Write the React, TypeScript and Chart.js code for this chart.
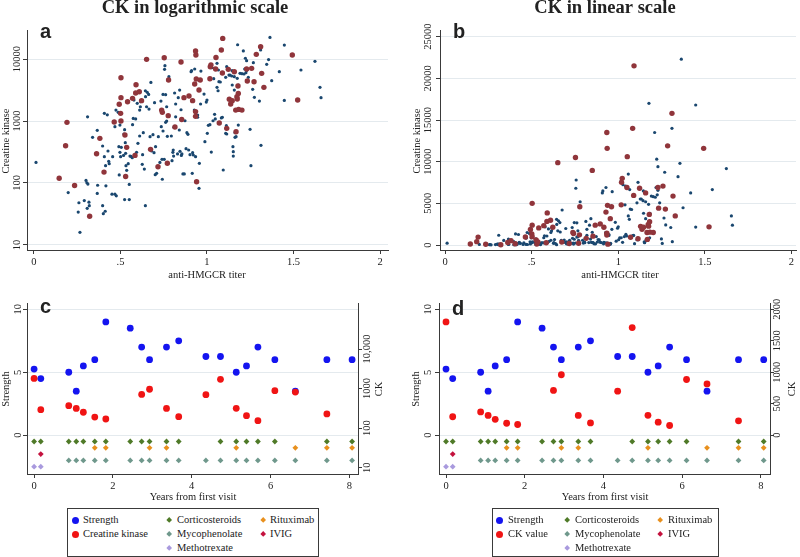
import React, { useEffect, useRef } from 'react';
import { Chart, registerables } from 'chart.js';

Chart.register(...registerables);

const SERIF = '"Liberation Serif", "Times New Roman", Times, serif';
const SANS = '"Liberation Sans", Arial, Helvetica, sans-serif';
const INK = '#222222';
const AXIS = '#3a3a3a';
const GRID = '#e4eaee';

// ---------- Panels a / b : anti-HMGCR titer vs creatine kinase ----------
const titerBlue = [
  0.012, 0.198, 0.26, 0.256, 0.266, 0.291, 0.301, 0.306, 0.312, 0.308,
  0.32, 0.318, 0.31, 0.339, 0.366, 0.366, 0.368, 0.397, 0.397, 0.401,
  0.407, 0.412, 0.416, 0.414, 0.407, 0.424, 0.428, 0.432, 0.435, 0.451,
  0.455, 0.468, 0.468, 0.476, 0.474, 0.487, 0.491, 0.493, 0.497, 0.497,
  0.501, 0.505, 0.518, 0.52, 0.524, 0.524, 0.528, 0.53, 0.532, 0.536,
  0.545, 0.551, 0.551, 0.555, 0.561, 0.568, 0.57, 0.574, 0.578, 0.588,
  0.593, 0.597, 0.601, 0.611, 0.611, 0.615, 0.617, 0.626, 0.628, 0.632,
  0.638, 0.644, 0.644, 0.645, 0.651, 0.655, 0.663, 0.665, 0.671, 0.676,
  0.68, 0.688, 0.694, 0.697, 0.701, 0.703, 0.709, 0.719, 0.728, 0.734,
  0.736, 0.74, 0.742, 0.746, 0.746, 0.753, 0.755, 0.757, 0.761, 0.761,
  0.767, 0.767, 0.771, 0.78, 0.794, 0.798, 0.803, 0.805, 0.807, 0.809,
  0.813, 0.819, 0.819, 0.83, 0.834, 0.84, 0.842, 0.844, 0.85, 0.852,
  0.855, 0.861, 0.869, 0.873, 0.879, 0.884, 0.89, 0.894, 0.902, 0.908,
  0.911, 0.915, 0.917, 0.921, 0.929, 0.927, 0.934, 0.946, 0.946, 0.954,
  0.956, 0.965, 0.963, 0.983, 0.988, 0.996, 1.0, 1.002, 1.008, 1.017,
  1.017, 1.025, 1.027, 1.035, 1.039, 1.042, 1.044, 1.048, 1.058, 1.058,
  1.064, 1.066, 1.069, 1.077, 1.083, 1.089, 1.094, 1.108, 1.108, 1.112,
  1.114, 1.114, 1.127, 1.133, 1.143, 1.145, 1.146, 1.15, 1.152, 1.152,
  1.156, 1.158, 1.158, 1.162, 1.162, 1.168, 1.175, 1.177, 1.181, 1.183,
  1.191, 1.202, 1.21, 1.214, 1.218, 1.222, 1.225, 1.229, 1.229, 1.239,
  1.249, 1.254, 1.264, 1.268, 1.274, 1.303, 1.31, 1.312, 1.345, 1.356,
  1.364, 1.374, 1.418, 1.447, 1.447, 1.543, 1.624, 1.653, 1.659,
];
const ckBlue = [
  215, 70, 48, 34, 16, 52, 110, 101, 96, 39,
  43, 49, 1170, 545, 68, 707, 92, 395, 43, 32,
  266, 35, 90, 190, 1330, 1260, 328, 224, 205, 66,
  266, 811, 66, 62, 1500, 1380, 385, 135, 861, 312,
  266, 376, 279, 617, 725, 54, 447, 301, 190, 160,
  205, 54, 95, 272, 269, 256, 873, 1100, 2180, 1080,
  312, 1930, 436, 573, 1500, 1700, 2050, 200, 286, 648,
  168, 43, 3080, 2470, 1700, 2900, 2690, 1560, 559, 4200,
  328, 602, 308, 1980, 136, 385, 143, 559, 215, 2100,
  811, 241, 115, 2690, 690, 241, 6810, 7800, 2660, 951,
  1700, 1000, 566, 5190, 573, 229, 312, 341, 272, 791,
  2830, 1170, 1880, 294, 2380, 716, 3160, 324, 1520, 279,
  294, 140, 140, 1010, 358, 648, 610, 341, 286, 6250,
  6490, 143, 308, 283, 6900, 1500, 266, 1250, 1150, 82,
  208, 6400, 1880, 2720, 464, 2020, 2180, 632, 851, 7710,
  873, 316, 7240, 1010, 4820, 7070, 1280, 1080, 3490, 8510,
  3080, 6650, 4310, 4260, 1120, 1150, 162, 5060, 632, 841,
  617, 7520, 5520, 5520, 5320, 6490, 3810, 385, 320, 272,
  6320, 5190, 3160, 648, 545, 559, 4880, 17000, 861, 3810,
  5870, 5800, 13500, 5730, 6900, 10300, 6020, 9400, 6560, 5060,
  734, 190, 3240, 8730, 2410, 2100, 14000, 405, 8200, 9800,
  22300, 4470, 6250, 16800, 2150, 6650, 9170, 3490, 2380,
];
const titerRed = [
  0.146, 0.183, 0.191, 0.235, 0.322, 0.362, 0.381, 0.405, 0.464, 0.493,
  0.501, 0.503, 0.503, 0.503, 0.526, 0.53, 0.536, 0.541, 0.57, 0.584,
  0.588, 0.59, 0.609, 0.622, 0.651, 0.674, 0.717, 0.738, 0.742, 0.753,
  0.771, 0.776, 0.778, 0.815, 0.85, 0.854, 0.867, 0.896, 0.917, 0.929,
  0.934, 0.934, 0.934, 0.936, 0.938, 0.94, 0.954, 0.961, 1.019, 1.017,
  1.023, 1.05, 1.052, 1.071, 1.083, 1.089, 1.091, 1.114, 1.123, 1.129,
  1.137, 1.146, 1.158, 1.166, 1.168, 1.173, 1.175, 1.179, 1.181, 1.183,
  1.202, 1.229, 1.233, 1.258, 1.272, 1.285, 1.31, 1.316, 1.329, 1.493, 1.524,
];
const ckRed = [
  119, 400, 951, 91, 29, 297, 525, 150, 964, 1860,
  1330, 1000, 2380, 5000, 595, 127, 376, 2050, 2320, 279,
  2830, 3850, 2970, 2130, 9880, 349, 183, 1500, 1380, 10500,
  208, 1220, 4590, 800, 8950, 1060, 2380, 2530, 2130, 3950,
  1420, 1190, 13500, 11600, 4760, 105, 3160, 4590, 7520, 4820,
  8000, 6900, 10600, 929, 14000, 5950, 21500, 762, 6810, 2240,
  1880, 2130, 6250, 1500, 673, 2470, 2260, 3670, 2790, 1540,
  1500, 6900, 4420, 7070, 4310, 11900, 15800, 5870, 3490, 11600, 2180,
];
const titerTicks = [0, 0.5, 1, 1.5, 2];
const ckLogTicksAB = [10, 100, 1000, 10000];
const ckLinTicksAB = [0, 5000, 10000, 15000, 20000, 25000];

// ---------- Panels c / d : patient course ----------
const visitYears = [0, 0.17, 0.88, 1.07, 1.25, 1.54, 1.82, 2.44, 2.73, 2.93, 3.36, 3.67, 4.36, 4.73, 5.13, 5.39, 5.68, 6.11, 6.63, 7.43, 8.07];
const strength = [5.25, 4.5, 5, 3.5, 5.5, 6, 9, 8.5, 7, 6, 7, 7.5, 6.25, 6.25, 5, 5.5, 7, 6, 3.5, 6, 6];
const ckVisit = [1800, 293, 370, 314, 252, 190, 170, null, 712, 960, 314, 195, 700, 1710, 316, 207, 154, 885, 815, 228, null];
const onCorticosteroids = [1, 1, 1, 1, 1, 1, 1, 1, 1, 1, 1, 1, 0, 1, 1, 1, 1, 1, 0, 1, 1];
const onRituximab = [0, 0, 0, 0, 0, 1, 1, 0, 0, 1, 1, 0, 0, 0, 1, 0, 0, 0, 1, 1, 1];
const onIVIG = [0, 1, 0, 0, 0, 0, 0, 0, 0, 0, 0, 0, 0, 0, 0, 0, 0, 0, 0, 0, 0];
const onMycophenolate = [0, 0, 1, 1, 1, 1, 1, 1, 1, 1, 1, 1, 1, 1, 1, 1, 1, 1, 1, 1, 1];
const onMethotrexate = [1, 1, 0, 0, 0, 0, 0, 0, 0, 0, 0, 0, 0, 0, 0, 0, 0, 0, 0, 0, 0];
const levelCorticosteroids = -0.5;
const levelRituximab = -1;
const levelIVIG = -1.5;
const levelMycophenolate = -2;
const levelMethotrexate = -2.5;
const yearTicks = [0, 2, 4, 6, 8];
const strengthTicks = [0, 5, 10];
const ckLogTicksC = [10, 100, 1000, 10000];
const ckLinTicksD = [0, 500, 1000, 1500, 2000];

const C_NAVY = '#1a476f';
const C_MAROON = '#90353b';
const C_STRENGTH = '#1414f0';
const C_CK = '#f01414';
const C_CORT = '#4f7a28';
const C_MYCO = '#6f988c';
const C_RITUX = '#e8901e';
const C_IVIG = '#c4123e';
const C_MTX = '#a99ade';

type TextSpec = { text: string; x: number; y: number; font: string; rot?: boolean; align?: CanvasTextAlign; baseline?: CanvasTextBaseline };
type RotTicks = { axis: string; x: number; fmt: (v: number) => string };

function decoPlugin(texts: TextSpec[], rotTicks: RotTicks[]) {
  return {
    id: 'deco',
    afterDraw(chart: any) {
      const ctx = chart.ctx as CanvasRenderingContext2D;
      ctx.save();
      ctx.fillStyle = INK;
      for (const r of rotTicks) {
        const sc = chart.scales[r.axis];
        ctx.font = `10.5px ${SERIF}`;
        for (const t of sc.ticks) {
          const y = sc.getPixelForValue(t.value);
          ctx.save();
          ctx.translate(r.x, y);
          ctx.rotate(-Math.PI / 2);
          ctx.textAlign = 'center';
          ctx.textBaseline = 'middle';
          ctx.fillText(r.fmt(t.value), 0, 0);
          ctx.restore();
        }
      }
      for (const s of texts) {
        ctx.save();
        ctx.font = s.font;
        ctx.textAlign = s.align || 'center';
        ctx.textBaseline = s.baseline || 'middle';
        ctx.translate(s.x, s.y);
        if (s.rot) ctx.rotate(-Math.PI / 2);
        ctx.fillText(s.text, 0, 0);
        ctx.restore();
      }
      ctx.restore();
    },
  };
}

const fixTicks = (vals: number[]) => (scale: any) => {
  scale.ticks = vals.map((v) => ({ value: v }));
};
const fixW = (w: number) => (s: any) => {
  s.width = w;
};
const fixH = (h: number) => (s: any) => {
  s.height = h;
};

const xTitleFont = `10.5px ${SERIF}`;
const titleFont = `bold 18.5px ${SERIF}`;
const letterFont = `bold 20px ${SANS}`;

function xScale(min: number, max: number, ticks: number[], h: number, fmt: (v: number) => string) {
  return {
    type: 'linear',
    position: 'bottom',
    min,
    max,
    afterBuildTicks: fixTicks(ticks),
    afterFit: fixH(h),
    grid: { display: true, drawOnChartArea: false, drawTicks: true, tickLength: 4, tickColor: AXIS, lineWidth: 1 },
    border: { display: true, color: AXIS, width: 1 },
    ticks: { color: INK, padding: 2, font: { family: SERIF, size: 10.5 }, callback: (v: any) => fmt(Number(v)), maxRotation: 0, minRotation: 0, autoSkip: false },
  };
}

function yScale(type: string, position: string, min: number, max: number, ticks: number[], w: number, grid: boolean) {
  return {
    type,
    position,
    min,
    max,
    afterBuildTicks: fixTicks(ticks),
    afterFit: fixW(w),
    grid: { display: true, drawOnChartArea: grid, color: GRID, drawTicks: true, tickLength: 4, tickColor: AXIS, lineWidth: 1 },
    border: { display: true, color: AXIS, width: 1 },
    ticks: { display: false },
  };
}

const titerFmt = (v: number) => (v === 0 ? '0' : String(v).replace(/^0\./, '.'));

function scatterPanel(canvas: HTMLCanvasElement, log: boolean) {
  const red = titerRed.map((t, i) => ({ x: t, y: ckRed[i] }));
  const blue = titerBlue.map((t, i) => ({ x: t, y: ckBlue[i] }));
  const yAxisW = log ? 27 : 40;
  const texts: TextSpec[] = log
    ? [
        { text: 'CK in logarithmic scale', x: 195, y: 12.5, font: titleFont, baseline: 'alphabetic' },
        { text: 'a', x: 40, y: 38, font: letterFont, align: 'left', baseline: 'alphabetic' },
        { text: 'anti-HMGCR titer', x: 207, y: 275, font: xTitleFont },
        { text: 'Creatine kinase', x: 6, y: 141, font: xTitleFont, rot: true },
      ]
    : [
        { text: 'CK in linear scale', x: 205, y: 12.5, font: titleFont, baseline: 'alphabetic' },
        { text: 'b', x: 53, y: 38, font: letterFont, align: 'left', baseline: 'alphabetic' },
        { text: 'anti-HMGCR titer', x: 220, y: 275, font: xTitleFont },
        { text: 'Creatine kinase', x: 17, y: 141, font: xTitleFont, rot: true },
      ];
  return new Chart(canvas, {
    type: 'scatter',
    data: {
      datasets: [
        { data: red, backgroundColor: C_MAROON, borderColor: C_MAROON, borderWidth: 0, pointRadius: 2.7 },
        { data: blue, backgroundColor: C_NAVY, borderColor: C_NAVY, borderWidth: 0, pointRadius: 1.6 },
      ],
    },
    options: {
      responsive: false,
      animation: false,
      events: [],
      layout: { padding: { left: 0, top: 30, right: log ? 12 : 2, bottom: 0 } },
      plugins: { legend: { display: false }, tooltip: { enabled: false }, title: { display: false } },
      scales: {
        x: xScale(log ? -0.04 : -0.029, log ? 2.046 : 2.026, titerTicks, 40, titerFmt) as any,
        y: (log
          ? yScale('logarithmic', 'left', 8.3, 29400, ckLogTicksAB, yAxisW, true)
          : yScale('linear', 'left', -600, 25800, ckLinTicksAB, yAxisW, true)) as any,
      },
    },
    plugins: [decoPlugin(texts, [{ axis: 'y', x: log ? 17 : 28, fmt: (v) => String(v) }])],
  } as any);
}

function coursePanel(canvas: HTMLCanvasElement, log: boolean) {
  const pts = (flags: number[], level: number) =>
    visitYears.filter((_, i) => flags[i]).map((yr) => ({ x: yr, y: level }));
  const ckPts = visitYears
    .map((yr, i) => (ckVisit[i] == null ? null : { x: yr, y: ckVisit[i] as number }))
    .filter((p) => p !== null);
  const strengthPts = visitYears.map((yr, i) => ({ x: yr, y: strength[i] }));
  const diamond = (data: any[], color: string) => ({
    data,
    yAxisID: 'y',
    pointStyle: 'rectRot',
    pointRadius: 2.9,
    backgroundColor: color,
    borderColor: color,
    borderWidth: 0,
  });
  const leftW = log ? 27 : 39;
  const rightW = log ? 42 : 30;
  const texts: TextSpec[] = log
    ? [
        { text: 'c', x: 40, y: 23, font: letterFont, align: 'left', baseline: 'alphabetic' },
        { text: 'Years from first visit', x: 193, y: 207, font: xTitleFont },
        { text: 'Strength', x: 6, y: 99, font: xTitleFont, rot: true },
        { text: 'CK', x: 379, y: 99, font: xTitleFont, rot: true },
      ]
    : [
        { text: 'd', x: 52, y: 25, font: letterFont, align: 'left', baseline: 'alphabetic' },
        { text: 'Years from first visit', x: 205, y: 207, font: xTitleFont },
        { text: 'Strength', x: 16, y: 99, font: xTitleFont, rot: true },
        { text: 'CK', x: 392, y: 99, font: xTitleFont, rot: true },
      ];
  const rot: RotTicks[] = [
    { axis: 'y', x: log ? 18 : 28, fmt: (v) => String(v) },
    { axis: 'y2', x: log ? 367 : 377, fmt: (v) => (v >= 10000 ? v.toLocaleString('en-US') : String(v)) },
  ];
  return new Chart(canvas, {
    type: 'scatter',
    data: {
      datasets: [
        { data: ckPts, yAxisID: 'y2', pointRadius: 3.4, backgroundColor: C_CK, borderColor: C_CK, borderWidth: 0 },
        { data: strengthPts, yAxisID: 'y', pointRadius: 3.4, backgroundColor: C_STRENGTH, borderColor: C_STRENGTH, borderWidth: 0 },
        diamond(pts(onCorticosteroids, levelCorticosteroids), C_CORT),
        diamond(pts(onRituximab, levelRituximab), C_RITUX),
        diamond(pts(onIVIG, levelIVIG), C_IVIG),
        diamond(pts(onMycophenolate, levelMycophenolate), C_MYCO),
        diamond(pts(onMethotrexate, levelMethotrexate), C_MTX),
      ],
    },
    options: {
      responsive: false,
      animation: false,
      events: [],
      layout: { padding: { left: 0, top: 13, right: 0, bottom: 0 } },
      plugins: { legend: { display: false }, tooltip: { enabled: false }, title: { display: false } },
      scales: {
        x: xScale(log ? -0.18 : -0.178, log ? 8.22 : 8.23, yearTicks, 83, (v) => String(v)) as any,
        y: yScale('linear', 'left', -3.08, 10.5, strengthTicks, leftW, true) as any,
        y2: (log
          ? yScale('logarithmic', 'right', 6.93, 145500, ckLogTicksC, rightW, false)
          : yScale('linear', 'right', -616, 2100, ckLinTicksD, rightW, false)) as any,
      },
    },
    plugins: [decoPlugin(texts, rot)],
  } as any);
}

type LegendItem = { label: string; color: string; shape: 'circle' | 'diamond'; mx: number; tx: number; row: number };

function Legend({ left, width, items }: { left: number; width: number; items: LegendItem[] }) {
  const rowsY = [11, 25, 39];
  return (
    <div
      style={{
        position: 'absolute',
        left,
        top: 508,
        width,
        height: 47,
        border: `1px solid ${AXIS}`,
        boxSizing: 'content-box',
        background: '#fff',
        fontFamily: SERIF,
        fontSize: '10.5px',
        color: INK,
      }}
    >
      {items.map((it, i) => (
        <React.Fragment key={i}>
          {it.shape === 'circle' ? (
            <div
              style={{
                position: 'absolute',
                left: it.mx - 3.5,
                top: rowsY[it.row] - 3.5,
                width: 7,
                height: 7,
                borderRadius: '50%',
                background: it.color,
              }}
            />
          ) : (
            <div
              style={{
                position: 'absolute',
                left: it.mx - 2.2,
                top: rowsY[it.row] - 2.2,
                width: 4.4,
                height: 4.4,
                transform: 'rotate(45deg)',
                background: it.color,
              }}
            />
          )}
          <div
            style={{
              position: 'absolute',
              left: it.tx,
              top: rowsY[it.row] - 7,
              height: 14,
              lineHeight: '14px',
              whiteSpace: 'nowrap',
            }}
          >
            {it.label}
          </div>
        </React.Fragment>
      ))}
    </div>
  );
}

const legendLabelsC = ['Strength', 'Corticosteroids', 'Rituximab', 'Creatine kinase', 'Mycophenolate', 'IVIG', 'Methotrexate'];
const legendLabelsD = ['Strength', 'Corticosteroids', 'Rituximab', 'CK value', 'Mycophenolate', 'IVIG', 'Methotrexate'];
const legendColors = [C_STRENGTH, C_CORT, C_RITUX, C_CK, C_MYCO, C_IVIG, C_MTX];
const legendShapes: ('circle' | 'diamond')[] = ['circle', 'diamond', 'diamond', 'circle', 'diamond', 'diamond', 'diamond'];
const legendRows = [0, 0, 0, 1, 1, 1, 2];
const legendCols = [0, 1, 2, 0, 1, 2, 1];

function buildLegend(labels: string[], markerX: number[], textX: number[]): LegendItem[] {
  return labels.map((label, i) => ({
    label,
    color: legendColors[i],
    shape: legendShapes[i],
    row: legendRows[i],
    mx: markerX[legendCols[i]],
    tx: textX[legendCols[i]],
  }));
}

export default function App() {
  const aRef = useRef<HTMLCanvasElement>(null);
  const bRef = useRef<HTMLCanvasElement>(null);
  const cRef = useRef<HTMLCanvasElement>(null);
  const dRef = useRef<HTMLCanvasElement>(null);

  useEffect(() => {
    const charts: Chart[] = [];
    if (aRef.current) charts.push(scatterPanel(aRef.current, true));
    if (bRef.current) charts.push(scatterPanel(bRef.current, false));
    if (cRef.current) charts.push(coursePanel(cRef.current, true));
    if (dRef.current) charts.push(coursePanel(dRef.current, false));
    return () => charts.forEach((c) => c.destroy());
  }, []);

  const cv = (left: number, top: number, w: number, h: number): React.CSSProperties => ({
    position: 'absolute',
    left,
    top,
    width: w,
    height: h,
  });

  return (
    <div style={{ position: 'absolute', left: 0, top: 0, width: 800, height: 557, background: '#fff', overflow: 'hidden' }}>
      <canvas ref={aRef} width={400} height={290} style={cv(0, 0, 400, 290)} />
      <canvas ref={bRef} width={400} height={290} style={cv(400, 0, 400, 290)} />
      <canvas ref={cRef} width={400} height={267} style={cv(0, 290, 400, 267)} />
      <canvas ref={dRef} width={400} height={267} style={cv(400, 290, 400, 267)} />
      <Legend left={67} width={250} items={buildLegend(legendLabelsC, [7, 101, 195], [15, 109, 202])} />
      <Legend left={492} width={225} items={buildLegend(legendLabelsD, [6, 74, 167], [15, 82, 175])} />
    </div>
  );
}
